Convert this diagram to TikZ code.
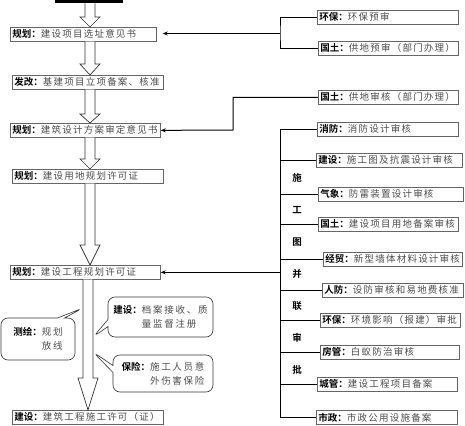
\documentclass[tikz,border=0pt]{standalone}
\usepackage{fontspec}
\setmainfont{Noto Sans CJK SC}[BoldFont={Noto Sans CJK SC Bold}]
\usetikzlibrary{calc,arrows.meta,shapes.callouts}
\newcommand\lab[2]{\textbf{#1：}{\color{black!70}\addfontfeature{LetterSpace=13}#2}}
\newcommand\tail[1]{{\color{black!70}\addfontfeature{LetterSpace=18}#1}}
\newcommand\hollowarrow[4]{%
  \draw[hollow] let \p1=(#3.south), \p2=(#4.north) in
    (#1pt-5pt,\y1) -- (#1pt-5pt,\y2+#2pt) -- (#1pt-10pt,\y2+#2pt) -- (#1pt,\y2)
    -- (#1pt+10pt,\y2+#2pt) -- (#1pt+5pt,\y2+#2pt) -- (#1pt+5pt,\y1);}
\begin{document}
\begin{tikzpicture} [
  x=1pt, y=-1pt,
  box/.style= {draw=black!60,line width=0.7pt,anchor=north west,inner xsep=2pt,inner ysep=0pt,
    minimum height=14,align=left,font=\fontsize{9.5}{10}\selectfont},
  hollow/.style= {draw=black!80,line width=0.7pt,fill=white},
  link/.style= {draw=black,line width=1pt},
  arrow/.style= {link,-{Stealth[length=5pt,width=4pt]}},
  note/.style= {rectangle callout,draw=black!80,line width=0.6pt,rounded corners=7pt,
    callout pointer width=7pt,align=left,font=\fontsize{9.5}{14}\selectfont},
  stage/.style= {font=\bfseries\fontsize{9.5}{10}\selectfont},
]
\useasboundingbox (0,0) rectangle (465,425);
\node (top) [fill=black,anchor=north west,minimum width=68,minimum height=6,inner sep=0] at (55,-3) {};
% main chain
\node (M1) [box,text width=142] at (10,27) {\lab{规划}{建设项目选址意见书}};
\node (M2) [box,text width=147] at (12,75) {\lab{发改}{基建项目立项备案、核准}};
\node (M3) [box,text width=146] at (10,123) {\lab{规划}{建筑设计方案审定意见书}};
\node (M4) [box,text width=147] at (12,169) {\lab{规划}{建设用地规划许可证}};
\node (M5) [box,text width=146] at (10,265) {\lab{规划}{建设工程规划许可证}};
\node (M6) [box,text width=147] at (12,410) {\lab{建设}{建筑工程施工许可（证）}};
\hollowarrow{90}{10}{top}{M1}
\hollowarrow{90}{11}{M1}{M2}
\hollowarrow{90}{9}{M2}{M3}
\hollowarrow{90}{10}{M3}{M4}
\hollowarrow{90}{20}{M4}{M5}
\hollowarrow{88}{32}{M5}{M6}
% callouts on the last arrow
\node (C1) [note,minimum width=74,minimum height=42,callout absolute pointer={(83,308)}] at (38,339)
  {\textbf{测绘：}\tail{规划}\\\phantom{\textbf{测绘：}}\tail{放线}};
\node (C2) [note,minimum width=105,minimum height=40,callout absolute pointer={(93,337)}] at (160.5,317)
  {\textbf{建设：}\tail{档案接收、质}\\\phantom{\textbf{建设：}}\tail{量监督注册}};
\node (C3) [note,minimum width=100,minimum height=37,callout absolute pointer={(93,352)}] at (163,373.5)
  {\textbf{保险：}\tail{施工人员意}\\\phantom{\textbf{保险：}}\tail{外伤害保险}};
% right side
\node (R1) [box,text width=137] at (317,10) {\lab{环保}{环保预审}};
\node (R2) [box,text width=136] at (318,41) {\lab{国土}{供地预审（部门办理）}};
\node (R3) [box,text width=136] at (318,90) {\lab{国土}{供地审核（部门办理）}};
\node (R4) [box,text width=137] at (317,122) {\lab{消防}{消防设计审核}};
\node (R5) [box,text width=142] at (316,153) {\lab{建设}{施工图及抗震设计审核}};
\node (R6) [box,text width=141] at (318,187) {\lab{气象}{防雷装置设计审核}};
\node (R7) [box,text width=136] at (318,217) {\lab{国土}{建设项目用地备案审核}};
\node (R8) [box,text width=135] at (323,252) {\lab{经贸}{新型墙体材料设计审核}};
\node (R9) [box,text width=137] at (322,283) {\lab{人防}{设防审核和易地费核准}};
\node (R10) [box,text width=136] at (320,313) {\lab{环保}{环境影响（报建）审批}};
\node (R11) [box,text width=135] at (320,345) {\lab{房管}{白蚁防治审核}};
\node (R12) [box,text width=136] at (317,377) {\lab{城管}{建设工程项目备案}};
\node (R13) [box,text width=137] at (316,410) {\lab{市政}{市政公用设施备案}};
\coordinate (J1) at (280,33.5);
\coordinate (J2) at (233,130);
\coordinate (sp) at (280,0);
\draw[link] (R1.west) -| (J1) |- (R2.west);
\draw[arrow,shorten >=6pt] (J1) -- (J1 -| M1.east);
\draw[arrow] (R3.west) -| (J2) -- (M3.east);
\draw[link] (R4.west) -| (R13.west -| sp) -- (R13.west);
\foreach \r in {R5,R6,R7,R8,R9,R10,R11,R12}
  \draw[link] (\r.west) -- (\r.west -| sp);
\draw[arrow] (M5.east -| sp) -- (M5.east);
\foreach \t [count=\i] in {施,工,图,并,联,审,批}
  \node (S\i) [stage] at (297,146+32*\i) {\t};
\end{tikzpicture}
\end{document}
